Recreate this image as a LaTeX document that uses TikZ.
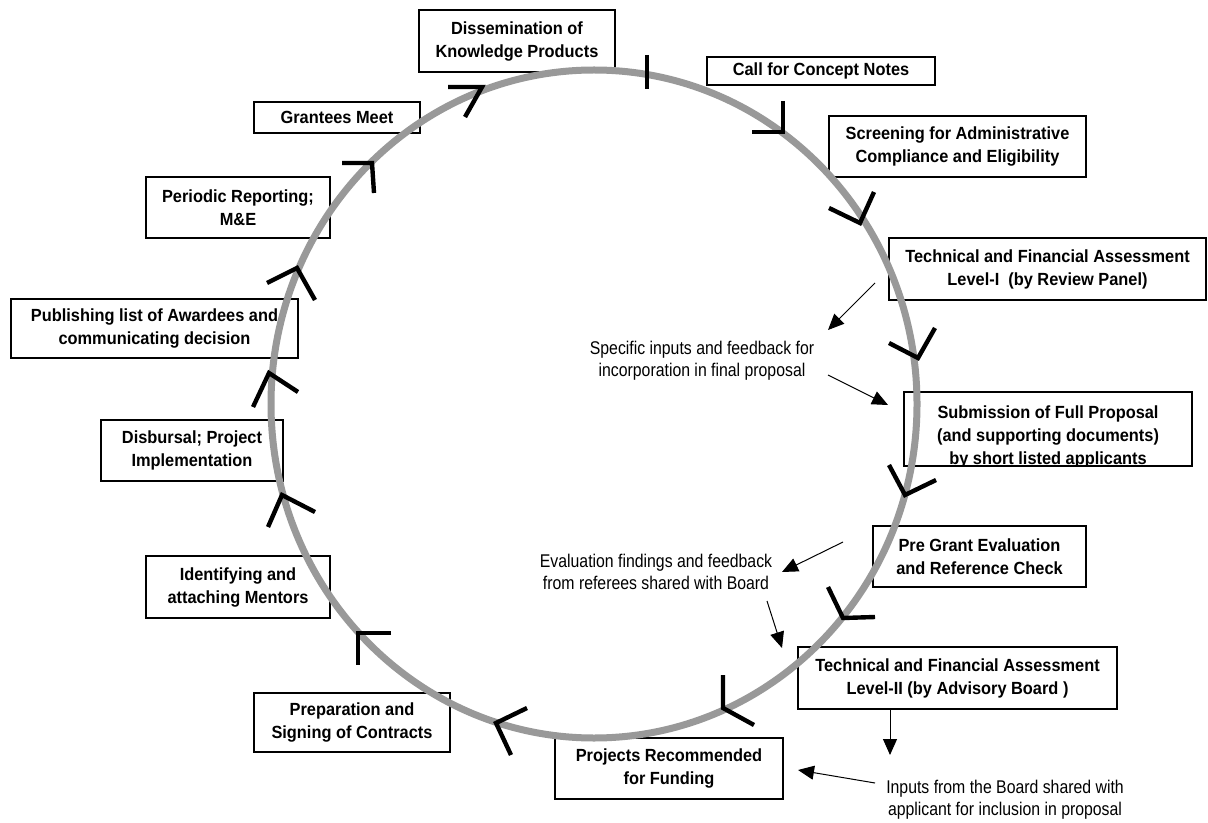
\documentclass[tikz,border=0pt]{standalone}
\usepackage{fontspec}
\setmainfont{Liberation Sans}
\newfontfamily\boxfont[FakeStretch=0.93]{Liberation Sans}
\newfontfamily\annfont[FakeStretch=0.86]{Liberation Sans}
\usetikzlibrary{arrows.meta}
\definecolor{ringgray}{HTML}{999999}
\begin{document}
\begin{tikzpicture}[x=0.5pt,y=-0.5pt,
  box/.style={draw=black, line width=0.75pt, fill=white, inner sep=0pt, align=center,
    font=\boxfont\bfseries\fontsize{8.8pt}{11.5pt}\selectfont},
  boxtext/.style={inner sep=0pt, align=center, font=\boxfont\bfseries\fontsize{8.8pt}{11.5pt}\selectfont},
  note/.style={inner sep=0pt, align=center, font=\annfont\fontsize{9.2pt}{11pt}\selectfont},
  ring/.style={draw=ringgray, line width=3.5pt},
  chev/.style={draw=black, line width=2.2pt, line join=miter},
  tickmark/.style={draw=black, line width=2.2pt},
  arr/.style={draw=black, line width=0.5pt, -{Triangle[length=8pt,width=7pt]}}]
\fill[white] (0,0) rectangle (1208,823);
\useasboundingbox (0,0) rectangle (1208,823);
% boxes
\node[box, minimum width=98pt, minimum height=31pt] (diss) at (517,41) {Dissemination of\\Knowledge Products};
\node[box, minimum width=114pt, minimum height=14pt] (call) at (821,71) {Call for Concept Notes};
\node[box, minimum width=128.5pt, minimum height=30.5pt] (scr) at (957.5,146.5) {Screening for Administrative\\Compliance and Eligibility};
\node[box, minimum width=158.5pt, minimum height=31pt] (tfa1) at (1047.5,269) {Technical and Financial Assessment\\Level-I\ \ (by Review Panel)};
\node[box, minimum width=144pt, minimum height=37pt] (sub) at (1048,429) {};
\begin{scope}
  \clip (sub.south west) rectangle (sub.north east);
  \node[boxtext] (subt) at (1048,437) {Submission of Full Proposal\\(and supporting documents)\\by short listed applicants};
\end{scope}
\node[box, minimum width=106.5pt, minimum height=30.5pt] (pre) at (979.5,556.5) {Pre Grant Evaluation\\and Reference Check};
\node[box, minimum width=159.5pt, minimum height=31pt] (tfa2) at (957.5,678) {Technical and Financial Assessment\\Level-II (by Advisory Board )};
\node[box, minimum width=114pt, minimum height=30.5pt] (proj) at (669,768.5) {Projects Recommended\\for Funding};
\node[box, minimum width=98pt, minimum height=29.5pt] (prep) at (352,722.5) {Preparation and\\Signing of Contracts};
\node[box, minimum width=92pt, minimum height=31pt] (ident) at (238,587) {Identifying and\\attaching Mentors};
\node[box, minimum width=91pt, minimum height=30.5pt] (disb) at (192,450.5) {Disbursal; Project\\Implementation};
\node[box, minimum width=143.5pt, minimum height=29.5pt] (pub) at (154.5,328.5) {Publishing list of Awardees and\\communicating decision};
\node[box, minimum width=92pt, minimum height=30.5pt] (per) at (238,207.5) {Periodic Reporting;\\M\&E};
\node[box, minimum width=83pt, minimum height=15.5pt] (grant) at (337,117.5) {Grantees Meet};
% cycle ring
\draw[ring] (594,404) ellipse [x radius=161.5pt, y radius=167pt];
% start tick
\draw[tickmark] (647,55) -- (647,89);
% chevrons (clockwise direction)
\draw[chev] (783,101) -- (783,132) -- (752,132);
\draw[chev] (874,192) -- (860,223) -- (829,208);
\draw[chev] (935,328) -- (918,358) -- (889,343);
\draw[chev] (889,465) -- (905,495) -- (936,480);
\draw[chev] (828,587) -- (843,618) -- (875,617);
\draw[chev] (723,675) -- (723,708) -- (754,725);
\draw[chev] (527,708) -- (496,723) -- (511,755);
\draw[chev] (391,633) -- (358,633) -- (358,665);
\draw[chev] (315,512) -- (282,495) -- (268,527);
\draw[chev] (298,392) -- (269,373) -- (253,407);
\draw[chev] (315,300) -- (297,268) -- (267,283);
\draw[chev] (342,163) -- (372,163) -- (374,193);
\draw[chev] (448,87) -- (482,87) -- (465,117);
% notes
\node[note] (spec) at (702,361) {Specific inputs and feedback for\\incorporation in final proposal};
\node[note] (eval) at (656,572) {Evaluation findings and feedback\\from referees shared with Board};
\node[note] (inp) at (1005,800) {Inputs from the Board shared with\\applicant for inclusion in proposal};
% connector ends
\coordinate (a1s) at (875,283);
\coordinate (a1e) at (828,330);
\coordinate (a2s) at (828,375);
\coordinate (a2e) at (888,405);
\coordinate (a3s) at (843,542);
\coordinate (a3e) at (782,572);
\coordinate (a4s) at (767,601);
\coordinate (a4e) at (782,648);
\coordinate (a5e) at (890,755);
\coordinate (a6s) at (875,783);
\coordinate (a6e) at (798,770);
% connectors
\draw[arr] (a1s) -- (a1e);
\draw[arr] (a2s) -- (a2e);
\draw[arr] (a3s) -- (a3e);
\draw[arr] (a4s) -- (a4e);
\draw[arr] (tfa2.south -| a5e) -- (a5e);
\draw[arr] (a6s) -- (a6e);
\end{tikzpicture}
\end{document}
